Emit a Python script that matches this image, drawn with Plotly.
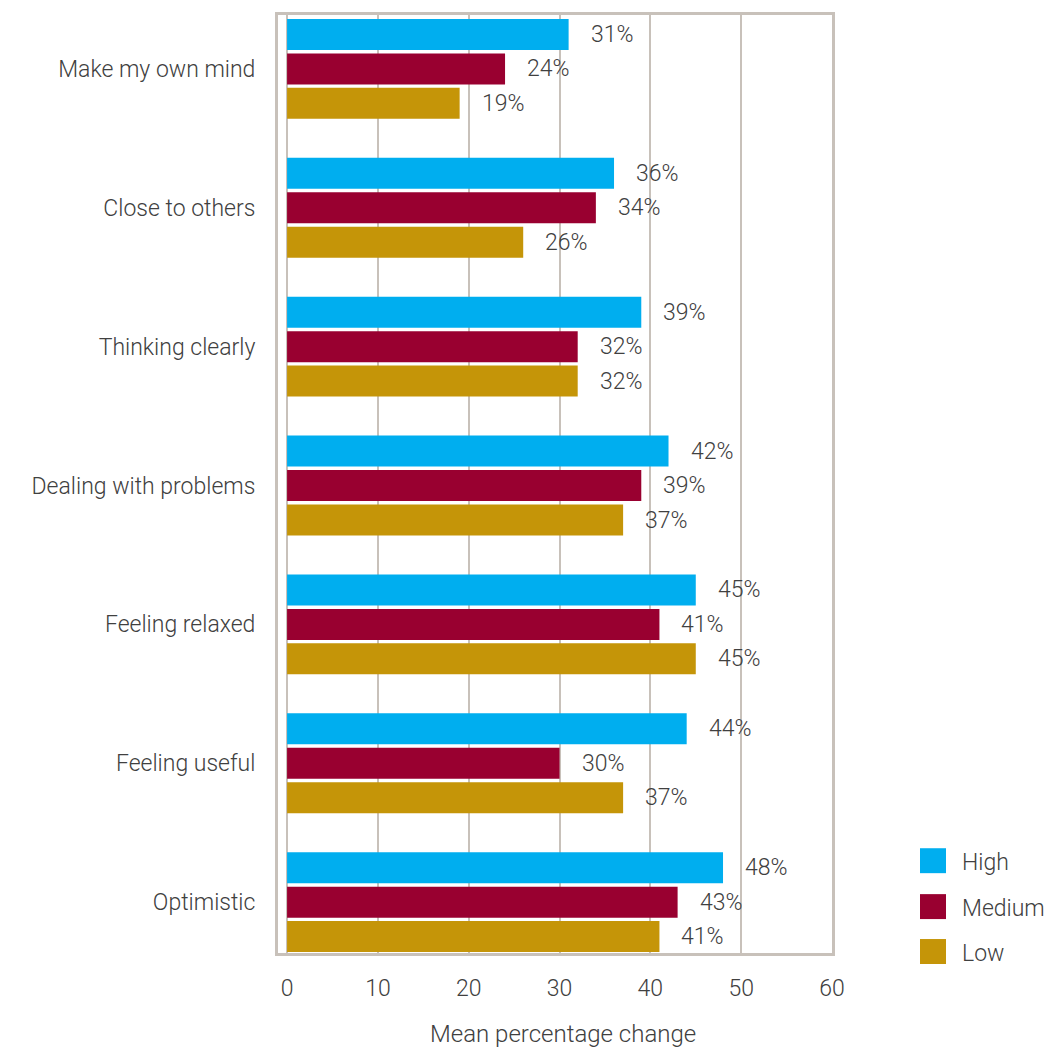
import plotly.graph_objects as go

# Survey outcomes and mean percentage change by engagement level
categories = [
    "Make my own mind",
    "Close to others",
    "Thinking clearly",
    "Dealing with problems",
    "Feeling relaxed",
    "Feeling useful",
    "Optimistic",
]
high = [31, 36, 39, 42, 45, 44, 48]
medium = [24, 34, 32, 39, 41, 30, 43]
low = [19, 26, 32, 37, 45, 37, 41]

series_names = ["High", "Medium", "Low"]
series_values = [high, medium, low]
series_colors = ["#00AEEF", "#990030", "#C59508"]

x_ticks = [0, 10, 20, 30, 40, 50, 60]
x_title = "Mean percentage change"

W, H = 1050, 1047
L, R, T, B = 278, 832, 13, 953  # plot area edges in pixels
FONT = "Roboto"
TEXT = "#404040"
GRID = "#C8C1BA"
FS = 23


def px_x(p):
    return (p - L) / (R - L)


def px_y(p):
    return (B - p) / (B - T)


fig = go.Figure()
for name, vals, col in zip(series_names, series_values, series_colors):
    fig.add_trace(go.Bar(
        y=categories, x=vals, name=name, orientation="h",
        marker=dict(color=col, line=dict(width=0)),
        showlegend=False,
    ))

# value labels to the right of each bar
annotations = []
pitch = 34.5
for k, vals in enumerate(series_values):
    shift = (1 - k) * pitch
    for cat, v in zip(categories, vals):
        annotations.append(dict(
            x=v, y=cat, xref="x", yref="y", text=f"{v}%", showarrow=False,
            xanchor="left", yanchor="middle", xshift=20, yshift=shift,
            font=dict(family=FONT, size=FS, color=TEXT, weight=300),
        ))

# axis title
annotations.append(dict(
    x=px_x(563), y=px_y(1034), xref="paper", yref="paper", text=x_title,
    showarrow=False, xanchor="center", yanchor="middle",
    font=dict(family=FONT, size=24, color=TEXT, weight=300),
))

# legend: square swatches with labels
shapes = []
legend_tops = [848, 894, 939]
for name, col, top in zip(series_names, series_colors, legend_tops):
    shapes.append(dict(
        type="rect", xref="paper", yref="paper",
        x0=px_x(920), x1=px_x(946), y0=px_y(top + 25), y1=px_y(top),
        fillcolor=col, line=dict(width=0),
    ))
    annotations.append(dict(
        x=px_x(960), y=px_y(top + 14), xref="paper", yref="paper", text=name,
        showarrow=False, xanchor="left", yanchor="middle",
        font=dict(family=FONT, size=FS, color=TEXT, weight=300),
    ))

fig.update_layout(
    width=W, height=H,
    margin=dict(l=L, r=W - R, t=T, b=H - B, pad=0),
    paper_bgcolor="white", plot_bgcolor="white",
    barmode="group", bargap=0.256, bargroupgap=0.1,
    annotations=annotations, shapes=shapes,
    font=dict(family=FONT, color=TEXT),
)
fig.update_xaxes(
    range=[-1, 60], tickvals=x_ticks, ticktext=[str(t) for t in x_ticks],
    showgrid=True, gridcolor=GRID, gridwidth=2,
    showline=True, linecolor=GRID, linewidth=3, mirror=True,
    zeroline=False, ticks="", ticklabelstandoff=12,
    tickfont=dict(family=FONT, size=FS, color=TEXT, weight=300),
)
fig.update_yaxes(
    range=[6.366, -0.388], showgrid=False,
    showline=True, linecolor=GRID, linewidth=3, mirror=True,
    zeroline=False, ticks="", ticklabelstandoff=15,
    tickfont=dict(family=FONT, size=FS, color=TEXT, weight=300),
)

fig.write_html("out.html")
